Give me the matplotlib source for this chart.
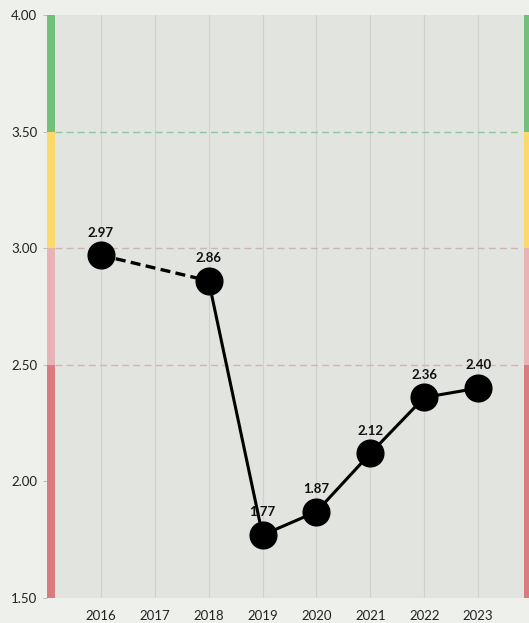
#!/usr/bin/env python3
"""Yearly score 2016 to 2023 on a 1.5 to 4.0 scale with coloured rating bands."""
import matplotlib
matplotlib.use("Agg")
import matplotlib.pyplot as plt

plt.rcParams["font.family"] = ["Lato", "DejaVu Sans"]

YEARS = [2016, 2018, 2019, 2020, 2021, 2022, 2023]
SCORES = [2.97, 2.86, 1.77, 1.87, 2.12, 2.36, 2.40]
TICK_YEARS = [2016, 2017, 2018, 2019, 2020, 2021, 2022, 2023]
Y_TICKS = [1.50, 2.00, 2.50, 3.00, 3.50, 4.00]

# rating bands: (low, high, colour)
BANDS = [
    (1.5, 2.5, "#d97b7f"),
    (2.5, 3.0, "#e8b3b4"),
    (3.0, 3.5, "#fbd96a"),
    (3.5, 4.0, "#72c07a"),
]
# dashed band borders
BORDERS = [(3.5, "#8dc69a"), (3.0, "#cfb3b0"), (2.5, "#ddb0b0")]

FIG_BG = "#eef0ec"
AX_BG = "#e2e4e0"

fig = plt.figure(figsize=(5.29, 6.23), dpi=100)
fig.patch.set_facecolor(FIG_BG)
ax = fig.add_axes([47 / 529, 25 / 623, 485 / 529, 583 / 623])
ax.set_facecolor(AX_BG)
ax.set_xlim(2015, 2024)
ax.set_ylim(1.5, 4.0)

for s in ax.spines.values():
    s.set_visible(False)

# vertical year grid
for yr in TICK_YEARS:
    ax.axvline(yr, color="#cfd1cd", lw=0.8, zorder=1)

# band strips on both sides
for lo, hi, c in BANDS:
    ax.axvspan(2015, 2015.15, ymin=(lo - 1.5) / 2.5, ymax=(hi - 1.5) / 2.5,
               color=c, lw=0, zorder=2)
    ax.axvspan(2023.85, 2024, ymin=(lo - 1.5) / 2.5, ymax=(hi - 1.5) / 2.5,
               color=c, lw=0, zorder=2)

for y, c in BORDERS:
    ax.plot([2015.15, 2023.8], [y, y], color=c, lw=1.0,
            dashes=(5, 3), zorder=2)

# 2017 has no value: dashed bridge between 2016 and 2018
ax.plot(YEARS[:2], SCORES[:2], color="black", lw=2.4, dashes=(3, 1.6), zorder=3)
ax.plot(YEARS[1:], SCORES[1:], color="black", lw=2.2, zorder=3)
ax.scatter(YEARS, SCORES, s=370, color="black", zorder=4)

for x, v in zip(YEARS, SCORES):
    ax.annotate(f"{v:.2f}", (x, v), xytext=(0, 12), textcoords="offset points",
                ha="center", va="bottom", fontsize=9.5, fontweight="bold",
                color="#111111", zorder=5)

ax.set_xticks(TICK_YEARS)
ax.set_xticklabels([str(t) for t in TICK_YEARS])
ax.set_yticks(Y_TICKS)
ax.set_yticklabels([f"{t:.2f}" for t in Y_TICKS])
ax.tick_params(axis="x", length=0, pad=9, labelsize=9.5, labelcolor="#222222")
ax.tick_params(axis="y", length=3, width=0.6, color="#b5b5b5", pad=4,
               labelsize=9.5, labelcolor="#222222")

fig.savefig("out.png", dpi=100, facecolor=FIG_BG)
